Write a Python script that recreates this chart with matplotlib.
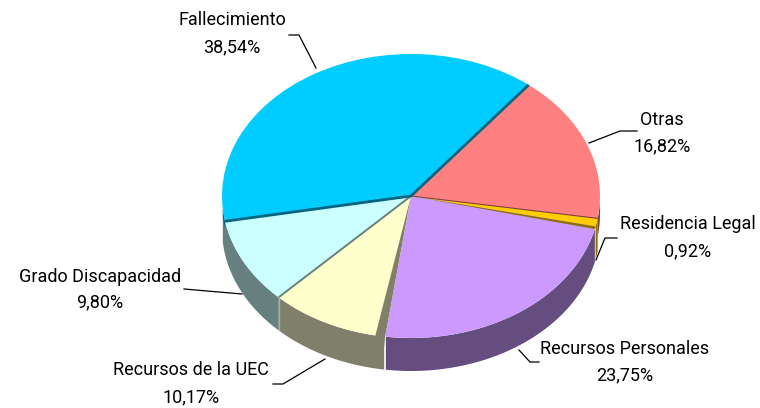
#!/usr/bin/env python3
# -*- coding: utf-8 -*-
import numpy as np
import matplotlib
matplotlib.use('Agg')
import matplotlib.pyplot as plt
from matplotlib.patches import Polygon

categories = ['Otras', 'Residencia Legal', 'Recursos Personales',
              'Recursos de la UEC', 'Grado Discapacidad', 'Fallecimiento']
values = [16.82, 0.92, 23.75, 10.17, 9.80, 38.54]
value_labels = ['16,82%', '0,92%', '23,75%', '10,17%', '9,80%', '38,54%']
top_colors = ['#FF8080', '#FFCC00', '#CC99FF', '#FFFFCC', '#CCFFFF', '#00CCFF']
wall_colors = ['#804040', '#8C7000', '#664D80', '#80806A', '#668080', '#006680']

W, H = 760, 408
CX, CY, RX, RY, DEPTH = 411, 196, 189, 142, 33

plt.rcParams['font.family'] = ['Roboto', 'DejaVu Sans']

fig = plt.figure(figsize=(W / 100, H / 100), dpi=100)
ax = fig.add_axes([0, 0, 1, 1])
wedges, _ = ax.pie(values, startangle=51.5, counterclock=False, colors=top_colors,
                   radius=1, wedgeprops={'linewidth': 0, 'zorder': 3})
ax.set_aspect('auto')
ax.set_xlim(-CX / RX, (W - CX) / RX)
ax.set_ylim((CY - H) / RY, CY / RY)
ax.axis('off')
depth = DEPTH / RY


def px(x, y):
    return (x - CX) / RX, (CY - y) / RY


def rim(a):
    a = np.radians(a)
    return np.cos(a), np.sin(a)


def add_wall(a1, a2, d, color, z=2):
    a = np.linspace(a1, a2, 300)
    a = a[np.sin(np.radians(a)) <= 0.001]
    if len(a) == 0:
        return
    xs, ys = rim(a)
    pts = np.r_[np.c_[xs, ys], np.c_[xs[::-1], ys[::-1] - d]]
    ax.add_patch(Polygon(pts, closed=True, fc=color, ec='none', zorder=z))


# side walls, only the front part of each slice
add_wall(wedges[0].theta1, wedges[0].theta2, depth * 0.55, wall_colors[0])
add_wall(wedges[1].theta1, wedges[1].theta2, depth, wall_colors[1])
add_wall(wedges[2].theta1, wedges[2].theta2 - 1, depth, wall_colors[2], z=2.2)
add_wall(wedges[3].theta1, wedges[3].theta2, depth, wall_colors[3])
add_wall(wedges[4].theta1 - 5, wedges[4].theta2, depth, wall_colors[4])
add_wall(wedges[5].theta2 - 5, wedges[5].theta2, depth * 0.22, wall_colors[5], z=2.4)

# cut face of the UEC slice, next to Recursos Personales
uec = wedges[3]
x1, y1 = rim(uec.theta2)
x2, y2 = rim(uec.theta2 - 3)
x3, y3 = rim(uec.theta2 - 1)
ax.add_patch(Polygon([(0, 0), (x1, y1), (x3, y3 - depth), (x2, y2)], closed=True,
                     fc=wall_colors[3], ec='none', zorder=4))
# white gap between that face and the Personales wall
ax.plot([x1, x1], [y1, y1 - depth], color='white', lw=1.2, zorder=3)

# cut face of Residencia Legal, lies over the start of Personales
res = wedges[1]
x1, y1 = rim(res.theta1)
x2, y2 = rim(res.theta1 - 1.1)
ax.add_patch(Polygon([(0, 0), (x1, y1), (x2, y2)], closed=True,
                     fc=wall_colors[1], ec='none', zorder=4))

# dark edges between slices
falle = wedges[5]
for a in (falle.theta1, falle.theta2):
    x1, y1 = rim(a)
    ax.plot([0, x1], [0, y1], color='#006680', lw=2.0, zorder=5, solid_capstyle='butt')
x1, y1 = rim(wedges[4].theta2)
ax.plot([0, x1], [0, y1], color='#668080', lw=1.4, zorder=4, solid_capstyle='butt')
ax.plot([x1, x1], [y1, y1 - depth], color='#8FB0B8', lw=1.0, zorder=4)
x1, y1 = rim(wedges[0].theta1)
ax.plot([0, x1], [0, y1], color='#804040', lw=0.8, zorder=4)

# leader lines
leaders = {
    'Fallecimiento': [(289, 35), (299, 35), (316, 68)],
    'Otras': [(637, 131), (620, 131), (589, 143)],
    'Residencia Legal': [(596, 260), (605, 238), (617, 238)],
    'Recursos Personales': [(519, 350), (530, 362), (539, 362)],
    'Recursos de la UEC': [(325, 359), (283, 384), (273, 384)],
    'Grado Discapacidad': [(184, 289), (242, 294)],
}
label_pos = {
    'Fallecimiento': (232, 20, 47),
    'Otras': (662, 120, 146),
    'Residencia Legal': (688, 224, 251),
    'Recursos Personales': (625, 349, 375),
    'Recursos de la UEC': (191, 370, 397),
    'Grado Discapacidad': (100, 277, 302),
}
for name, lab in zip(categories, value_labels):
    pts = np.array([px(*p) for p in leaders[name]])
    ax.plot(pts[:, 0], pts[:, 1], color='black', lw=0.9, zorder=6)
    x, y1, y2 = label_pos[name]
    ax.text(*px(x, y1), name, ha='center', va='center', fontsize=13, color='black')
    ax.text(*px(x, y2), lab, ha='center', va='center', fontsize=13, color='black')

fig.savefig('out.png', dpi=100, facecolor='white')
